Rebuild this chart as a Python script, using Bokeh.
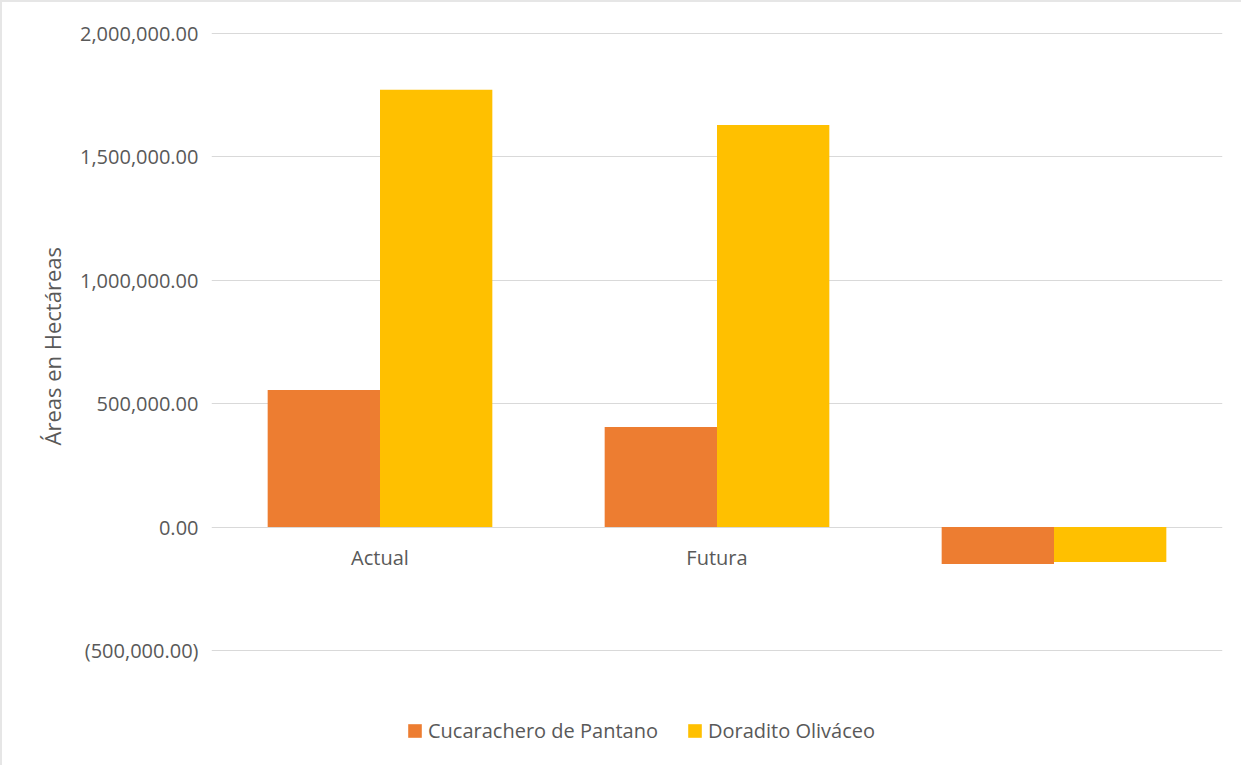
from bokeh.plotting import figure
from bokeh.models import (ColumnDataSource, NumeralTickFormatter, FixedTicker, Range1d,
                          Legend, LegendItem, Title)
from bokeh.transform import dodge
from bokeh.core.properties import value
from bokeh.embed import file_html
from bokeh.resources import INLINE

categories = ["Actual", "Futura", ""]
series_names = ["Cucarachero de Pantano", "Doradito Oliváceo"]
cucarachero = [555000, 405000, -150000]
doradito = [1770000, 1628000, -142000]
y_ticks = [-500000, 0, 500000, 1000000, 1500000, 2000000]
y_title = "Áreas en Hectáreas"

FONT = "Open Sans"
FS = "20px"
TXT = "#595959"
GRID = "#D9D9D9"

# layout: axis span (-500k..2M) covers 617.5 px; frame continues down to the
# bottom of the page so the legend can sit below the axis area
AXIS_PX = 617.5
FRAME_H = 733
units_per_px = (y_ticks[-1] - y_ticks[0]) / AXIS_PX
y_top = y_ticks[-1] + units_per_px * 0.5
y_bottom = y_top - FRAME_H * units_per_px

idx = list(range(len(categories)))
src = ColumnDataSource(dict(x=idx, cat=categories, c=cucarachero, d=doradito,
                            zero=[0] * len(idx)))

p = figure(frame_width=1011, frame_height=FRAME_H, output_backend="svg",
           toolbar_location=None,
           x_range=Range1d(-0.5, len(categories) - 0.5),
           y_range=Range1d(y_bottom, y_top),
           min_border_left=209, min_border_right=19, min_border_top=30,
           min_border_bottom=0)
p.outline_line_color = None
p.background_fill_color = "white"
p.border_fill_color = "white"

r1 = p.vbar(x=dodge("x", -1 / 6, range=p.x_range), top="c", width=1 / 3,
            source=src, color="#ED7D31", line_color=None)
r2 = p.vbar(x=dodge("x", 1 / 6, range=p.x_range), top="d", width=1 / 3,
            source=src, color="#FFC000", line_color=None)

p.text(x="x", y="zero", text="cat", source=src, text_align="center",
       text_baseline="middle", y_offset=30, text_font=value(FONT),
       text_font_size=FS, text_color=TXT)

p.xaxis.visible = False
p.xgrid.visible = False
p.ygrid.grid_line_color = GRID
p.ygrid.grid_line_width = 1
p.yaxis.ticker = FixedTicker(ticks=y_ticks)
p.yaxis.formatter = NumeralTickFormatter(format="(0,0.00)")
p.yaxis.axis_line_color = None
p.yaxis.major_tick_line_color = None
p.yaxis.minor_tick_line_color = None
p.yaxis.major_label_standoff = 7
p.yaxis.major_label_text_font = FONT
p.yaxis.major_label_text_font_size = FS
p.yaxis.major_label_text_color = TXT

ytitle = Title(text=y_title, align="left", offset=320,
               text_font=FONT, text_font_size="22px", text_font_style="normal",
               text_color=TXT, standoff=20)
p.add_layout(ytitle, "left")

legend = Legend(items=[LegendItem(label=series_names[0], renderers=[r1]),
                       LegendItem(label=series_names[1], renderers=[r2])],
                orientation="horizontal", location=(195, 21),
                label_text_font=FONT, label_text_font_size=FS,
                label_text_color=TXT, glyph_width=17, glyph_height=17,
                label_standoff=5, spacing=28, padding=0, margin=0,
                border_line_color=None, background_fill_alpha=0)
p.add_layout(legend, "center")

p.styles = {"border-top": "2px solid #E6E6E6", "border-left": "2px solid #E6E6E6",
            "box-sizing": "border-box"}

open("out.html", "w").write(file_html(p, INLINE))
